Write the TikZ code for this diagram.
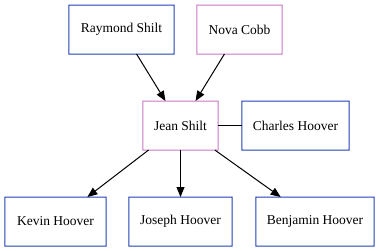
\documentclass[tikz,border=0pt]{standalone}
\usepackage{fontspec}
\setmainfont{Liberation Serif}
\usetikzlibrary{arrows.meta}
\definecolor{maleblue}{RGB}{30,64,180}
\definecolor{femalepink}{RGB}{200,118,196}
% 1bp frame around a node, drawn as a filled ring
\newcommand\drawpersonframe[2]{%
  \fill[#2, even odd rule]
    ([xshift=-0.5bp,yshift=0.5bp]#1.north west) rectangle ([xshift=0.5bp,yshift=-0.5bp]#1.south east)
    ([xshift=0.5bp,yshift=-0.5bp]#1.north west) rectangle ([xshift=-0.5bp,yshift=0.5bp]#1.south east);}
\begin{document}
\begin{tikzpicture}[x=1bp,y=-1bp,
  person/.style={minimum height=48bp, inner sep=0pt, outer sep=0.5bp,
    text=black, font=\fontsize{13.5bp}{16bp}\selectfont},
  parentof/.style={draw=black, line width=1bp, -{Triangle[length=10bp,width=8bp]}},
  spouse/.style={draw=black, line width=1bp}]
  % half-pixel offset keeps the 1bp frames on whole pixels
  \useasboundingbox (-0.5,-0.5) rectangle (379.5,250.5);
  \node[person, minimum width=104bp] (raymond) at (121,29) {Raymond Shilt};
  \node[person, minimum width=84bp] (nova) at (239,29) {Nova Cobb};
  \node[person, minimum width=74bp] (jean) at (180,125) {Jean Shilt};
  \node[person, minimum width=106bp] (charles) at (295,125) {Charles Hoover};
  \node[person, minimum width=100bp] (kevin) at (55,221) {Kevin Hoover};
  \node[person, minimum width=102bp] (joseph) at (180,221) {Joseph Hoover};
  \node[person, minimum width=117bp] (benjamin) at (314.5,221) {Benjamin Hoover};
  \drawpersonframe{raymond}{maleblue}
  \drawpersonframe{nova}{femalepink}
  \drawpersonframe{jean}{femalepink}
  \drawpersonframe{charles}{maleblue}
  \drawpersonframe{kevin}{maleblue}
  \drawpersonframe{joseph}{maleblue}
  \drawpersonframe{benjamin}{maleblue}
  \draw[parentof] (raymond) -- (jean);
  \draw[parentof] (nova) -- (jean);
  \draw[spouse] (jean) -- (charles);
  \draw[parentof] (jean) -- (kevin);
  \draw[parentof] (jean) -- (joseph);
  \draw[parentof] (jean) -- (benjamin);
\end{tikzpicture}
\end{document}
